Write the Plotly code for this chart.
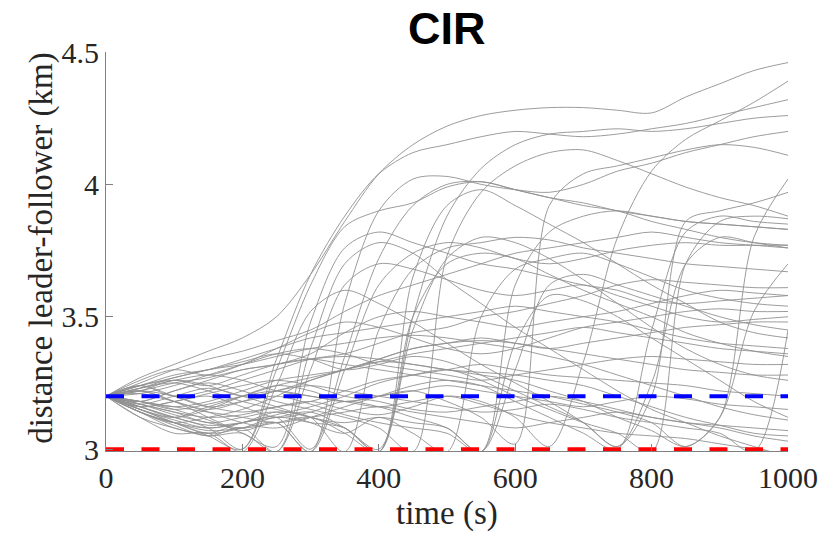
import plotly.graph_objects as go

# time grid (s)
T = [0, 50, 100, 150, 200, 250, 300, 350, 400, 450, 500, 550, 600, 650, 700, 750, 800, 850, 900, 950, 1000]

# leader-follower distance trajectories (km) at the grid times
L01 = [3.20, 3.27, 3.32, 3.37, 3.42, 3.50, 3.66, 3.86, 4.04, 4.15, 4.22, 4.26, 4.28, 4.29, 4.29, 4.28, 4.27, 4.33, 4.38, 4.43, 4.46]
L02 = [3.20, 3.17, 3.14, 3.12, 3.13, 3.16, 3.18, 3.15, 3.13, 3.16, 3.20, 3.18, 3.12, 3.01, 3.33, 3.80, 4.05, 4.17, 4.24, 4.31, 4.39]
L03 = [3.20, 3.15, 3.10, 3.05, 3.00, 3.34, 3.66, 3.88, 4.04, 4.12, 4.15, 4.18, 4.20, 4.19, 4.18, 4.19, 4.21, 4.23, 4.26, 4.29, 4.32]
L04 = [3.20, 3.23, 3.25, 3.22, 3.18, 3.15, 3.12, 3.08, 3.00, 3.50, 3.88, 4.06, 4.15, 4.19, 4.20, 4.21, 4.20, 4.21, 4.23, 4.25, 4.26]
L05 = [3.20, 3.18, 3.22, 3.25, 3.22, 3.18, 3.15, 3.12, 3.08, 2.99, 3.73, 3.97, 4.07, 4.12, 4.13, 4.09, 4.04, 3.99, 3.95, 3.92, 3.88]
L06 = [3.20, 3.16, 3.12, 3.15, 3.20, 3.24, 3.22, 3.18, 3.20, 3.22, 3.18, 3.12, 3.02, 3.92, 4.04, 4.07, 4.10, 4.13, 4.15, 4.14, 4.11]
L07 = [3.20, 3.14, 3.10, 3.12, 3.15, 3.20, 3.26, 3.30, 3.33, 3.32, 3.30, 3.28, 3.26, 3.22, 3.18, 3.12, 3.07, 3.01, 3.12, 3.80, 4.02]
L08 = [3.20, 3.24, 3.28, 3.30, 3.33, 3.36, 3.34, 3.30, 3.32, 3.35, 3.33, 3.28, 3.22, 3.16, 3.10, 3.01, 3.20, 3.86, 3.90, 3.93, 3.97]
L09 = [3.20, 3.14, 3.10, 3.08, 3.10, 3.13, 3.16, 3.20, 3.25, 3.28, 3.30, 3.26, 3.20, 3.15, 3.10, 3.06, 2.99, 3.70, 3.86, 3.88, 3.87]
L10 = [3.20, 3.22, 3.18, 3.14, 3.10, 3.08, 3.12, 3.16, 3.20, 3.24, 3.26, 3.24, 3.18, 3.12, 3.06, 3.00, 3.45, 3.82, 3.88, 3.86, 3.85]
L11 = [3.20, 3.16, 3.12, 3.08, 3.00, 3.30, 3.62, 3.84, 3.90, 3.93, 3.99, 4.01, 3.98, 3.95, 3.92, 3.90, 3.86, 3.83, 3.80, 3.78, 3.77]
L12 = [3.20, 3.22, 3.18, 3.12, 3.06, 3.01, 3.48, 3.76, 3.82, 3.78, 3.74, 3.70, 3.68, 3.65, 3.62, 3.60, 3.56, 3.55, 3.56, 3.57, 3.58]
L13 = [3.20, 3.25, 3.30, 3.34, 3.37, 3.41, 3.45, 3.52, 3.58, 3.62, 3.66, 3.70, 3.74, 3.76, 3.78, 3.80, 3.82, 3.80, 3.78, 3.77, 3.76]
L14 = [3.20, 3.15, 3.11, 3.08, 3.10, 3.14, 3.12, 2.99, 3.45, 3.68, 3.76, 3.78, 3.80, 3.79, 3.76, 3.74, 3.72, 3.70, 3.69, 3.68, 3.67]
L15 = [3.20, 3.24, 3.20, 3.22, 3.26, 3.30, 3.34, 3.36, 3.40, 3.44, 3.46, 3.50, 3.52, 3.55, 3.58, 3.62, 3.64, 3.63, 3.62, 3.61, 3.61]
L16 = [3.20, 3.18, 3.22, 3.26, 3.30, 3.32, 3.36, 3.44, 3.50, 3.52, 3.50, 3.48, 3.46, 3.48, 3.50, 3.52, 3.55, 3.58, 3.60, 3.59, 3.58]
L17 = [3.20, 3.17, 3.14, 3.10, 3.12, 3.14, 3.10, 3.06, 3.12, 3.06, 2.99, 3.50, 3.68, 3.72, 3.74, 3.70, 3.65, 3.60, 3.57, 3.55, 3.54]
L18 = [3.20, 3.26, 3.30, 3.28, 3.32, 3.38, 3.44, 3.48, 3.46, 3.42, 3.38, 3.36, 3.38, 3.42, 3.46, 3.48, 3.50, 3.52, 3.53, 3.52, 3.52]
L19 = [3.20, 3.14, 3.09, 3.05, 3.08, 2.99, 3.30, 3.62, 3.70, 3.68, 3.64, 3.60, 3.58, 3.60, 3.62, 3.58, 3.54, 3.50, 3.48, 3.49, 3.50]
L20 = [3.20, 3.22, 3.26, 3.24, 3.20, 3.22, 3.26, 3.30, 3.34, 3.38, 3.40, 3.42, 3.40, 3.38, 3.40, 3.42, 3.44, 3.46, 3.47, 3.48, 3.48]
L21 = [3.20, 3.16, 3.18, 3.20, 3.16, 3.12, 3.14, 3.18, 3.16, 3.12, 3.08, 2.99, 3.30, 3.62, 3.66, 3.62, 3.58, 3.54, 3.50, 3.47, 3.45]
L22 = [3.20, 3.23, 3.27, 3.30, 3.34, 3.38, 3.42, 3.44, 3.46, 3.48, 3.50, 3.52, 3.54, 3.52, 3.50, 3.48, 3.45, 3.42, 3.40, 3.39, 3.38]
L23 = [3.20, 3.18, 3.16, 3.18, 3.22, 3.26, 3.28, 3.30, 3.33, 3.36, 3.38, 3.40, 3.42, 3.44, 3.46, 3.44, 3.42, 3.40, 3.38, 3.37, 3.36]
L24 = [3.20, 3.17, 3.13, 3.10, 3.08, 3.10, 3.12, 3.06, 2.99, 3.50, 3.70, 3.74, 3.72, 3.66, 3.60, 3.55, 3.50, 3.44, 3.40, 3.37, 3.35]
L25 = [3.20, 3.21, 3.24, 3.28, 3.32, 3.36, 3.38, 3.36, 3.32, 3.30, 3.28, 3.26, 3.28, 3.30, 3.32, 3.34, 3.35, 3.34, 3.33, 3.32, 3.32]
L26 = [3.20, 3.15, 3.12, 3.16, 3.20, 3.24, 3.27, 3.30, 3.34, 3.38, 3.40, 3.41, 3.40, 3.38, 3.36, 3.34, 3.32, 3.30, 3.29, 3.28, 3.28]
L27 = [3.20, 3.14, 3.08, 3.06, 3.10, 3.12, 3.14, 3.08, 2.99, 3.45, 3.72, 3.80, 3.78, 3.72, 3.64, 3.55, 3.46, 3.38, 3.32, 3.28, 3.26]
L28 = [3.20, 3.22, 3.20, 3.16, 3.14, 3.16, 3.18, 3.22, 3.26, 3.28, 3.30, 3.32, 3.30, 3.28, 3.27, 3.26, 3.25, 3.24, 3.22, 3.21, 3.20]
L29 = [3.20, 3.23, 3.26, 3.28, 3.26, 3.22, 3.20, 3.18, 3.20, 3.22, 3.24, 3.22, 3.20, 3.18, 3.16, 3.18, 3.20, 3.19, 3.17, 3.16, 3.15]
L30 = [3.20, 3.24, 3.27, 3.30, 3.32, 3.35, 3.38, 3.40, 3.42, 3.43, 3.42, 3.40, 3.38, 3.35, 3.32, 3.28, 3.24, 3.20, 3.16, 3.13, 3.11]
L31 = [3.20, 3.16, 3.18, 3.21, 3.24, 3.26, 3.24, 3.20, 3.18, 3.15, 3.14, 3.16, 3.18, 3.20, 3.18, 3.15, 3.12, 3.10, 3.09, 3.08, 3.07]
L32 = [3.20, 3.22, 3.25, 3.27, 3.30, 3.32, 3.34, 3.35, 3.34, 3.32, 3.30, 3.29, 3.28, 3.26, 3.24, 3.20, 3.16, 3.12, 3.09, 3.06, 3.05]
L33 = [3.20, 3.18, 3.16, 3.14, 3.12, 3.10, 3.12, 3.14, 3.16, 3.14, 3.12, 3.10, 3.08, 3.10, 3.12, 3.14, 3.12, 3.10, 3.08, 3.05, 3.03]
L34 = [3.20, 3.24, 3.26, 3.24, 3.28, 3.32, 3.34, 3.32, 3.30, 3.28, 3.26, 3.24, 3.22, 3.20, 3.17, 3.14, 3.10, 3.01, 3.12, 3.52, 3.70]
L35 = [3.20, 3.16, 3.12, 3.09, 3.10, 3.12, 3.00, 3.35, 3.72, 3.92, 4.00, 4.01, 3.98, 3.95, 3.93, 3.90, 3.88, 3.86, 3.85, 3.84, 3.83]
L36 = [3.20, 3.12, 3.08, 3.05, 3.06, 2.99, 3.38, 3.70, 3.78, 3.74, 3.64, 3.55, 3.46, 3.38, 3.30, 3.22, 3.15, 3.10, 3.05, 3.01, 2.97]
L37 = [3.20, 3.18, 3.15, 3.11, 3.07, 3.10, 2.99, 3.30, 3.62, 3.74, 3.78, 3.76, 3.72, 3.70, 3.72, 3.75, 3.77, 3.78, 3.77, 3.77, 3.77]
L38 = [3.20, 3.24, 3.20, 3.16, 3.18, 3.20, 3.17, 3.13, 3.10, 3.08, 3.06, 2.99, 3.62, 3.82, 3.88, 3.90, 3.88, 3.86, 3.85, 3.84, 3.83]
L39 = [3.20, 3.17, 3.20, 3.23, 3.20, 3.16, 3.12, 3.10, 3.12, 3.10, 3.08, 2.99, 3.40, 3.58, 3.56, 3.50, 3.42, 3.34, 3.26, 3.18, 3.12]
L40 = [3.20, 3.15, 3.10, 3.06, 3.08, 3.12, 3.10, 3.08, 2.99, 3.65, 3.92, 3.98, 3.92, 3.85, 3.78, 3.70, 3.62, 3.55, 3.48, 3.44, 3.42]
L41 = [3.20, 3.12, 3.06, 3.06, 2.99, 3.24, 3.52, 3.60, 3.55, 3.48, 3.40, 3.32, 3.25, 3.18, 3.10, 3.01, 3.25, 3.70, 3.80, 3.78, 3.76]
L42 = [3.20, 3.18, 3.15, 3.17, 3.20, 3.22, 3.20, 3.18, 3.16, 3.18, 3.20, 3.17, 3.13, 3.10, 3.08, 3.06, 3.05, 3.04, 3.02, 3.00, 2.98]
L43 = [3.20, 3.14, 3.10, 3.07, 3.08, 3.10, 2.99, 3.55, 3.90, 4.02, 4.03, 4.00, 3.98, 3.97, 4.00, 4.05, 4.08, 4.12, 4.15, 4.18, 4.20]
L44 = [3.20, 3.21, 3.18, 3.15, 3.18, 3.22, 3.24, 3.22, 3.20, 3.18, 3.16, 3.14, 3.15, 3.17, 3.15, 3.12, 3.10, 3.08, 3.06, 2.99, 3.45]

TRAJECTORIES = [L01, L02, L03, L04, L05, L06, L07, L08, L09, L10, L11, L12, L13, L14, L15,
                L16, L17, L18, L19, L20, L21, L22, L23, L24, L25, L26, L27, L28, L29, L30,
                L31, L32, L33, L34, L35, L36, L37, L38, L39, L40, L41, L42, L43, L44]

# reference levels (km)
T_REF = [0, 1000]
SAFE_DIST = [3.2, 3.2]
MIN_DIST = [3.0, 3.0]

X_TICKS = [0, 200, 400, 600, 800, 1000]
Y_TICKS = [3, 3.5, 4, 4.5]
Y_TICK_TEXT = ["3", "3.5", "4", "4.5"]

fig = go.Figure()
for traj in TRAJECTORIES:
    fig.add_trace(go.Scatter(x=T, y=traj, mode="lines",
                             line=dict(color="rgb(145,145,145)", width=0.9, shape="spline", smoothing=0.9),
                             hoverinfo="skip", showlegend=False))
fig.add_trace(go.Scatter(x=T_REF, y=SAFE_DIST, mode="lines",
                         line=dict(color="rgb(0,0,255)", width=4, dash="18px,17.5px"), showlegend=False))
fig.add_trace(go.Scatter(x=T_REF, y=MIN_DIST, mode="lines",
                         line=dict(color="rgb(255,0,0)", width=4, dash="18px,17.5px"), showlegend=False))

serif = "Liberation Serif"
fig.update_layout(
    width=830, height=537,
    margin=dict(l=106, r=33, t=52, b=86),
    paper_bgcolor="white", plot_bgcolor="white",
    showlegend=False,
    xaxis=dict(range=[0, 1000], tickvals=X_TICKS, ticks="inside", ticklen=7, tickcolor="#808080",
               showline=True, linecolor="#808080", linewidth=1.2, showgrid=False, zeroline=False,
               tickfont=dict(family=serif, size=30, color="#262626")),
    yaxis=dict(range=[2.993, 4.5], tickvals=Y_TICKS, ticktext=Y_TICK_TEXT, ticks="inside", ticklen=7,
               tickcolor="#808080", showline=True, linecolor="#808080", linewidth=1.2, showgrid=False,
               zeroline=False, tickfont=dict(family=serif, size=30, color="#262626")),
    annotations=[
        dict(text="<b>CIR</b>", xref="paper", yref="paper", x=0.5, y=1 + (52 - 29) / 399,
             xanchor="center", yanchor="middle", showarrow=False,
             font=dict(family="Liberation Sans", size=45, color="black")),
        dict(text="time (s)", xref="paper", yref="paper", x=0.5, y=-(513 - 451) / 399,
             xanchor="center", yanchor="middle", showarrow=False,
             font=dict(family=serif, size=33, color="#262626")),
        dict(text="distance leader-follower (km)", xref="paper", yref="paper", x=(40 - 106) / 691,
             y=(451 - 248) / 399, xanchor="center", yanchor="middle", textangle=-90, showarrow=False,
             font=dict(family=serif, size=33, color="#262626")),
    ],
)

fig.write_html("out.html")
